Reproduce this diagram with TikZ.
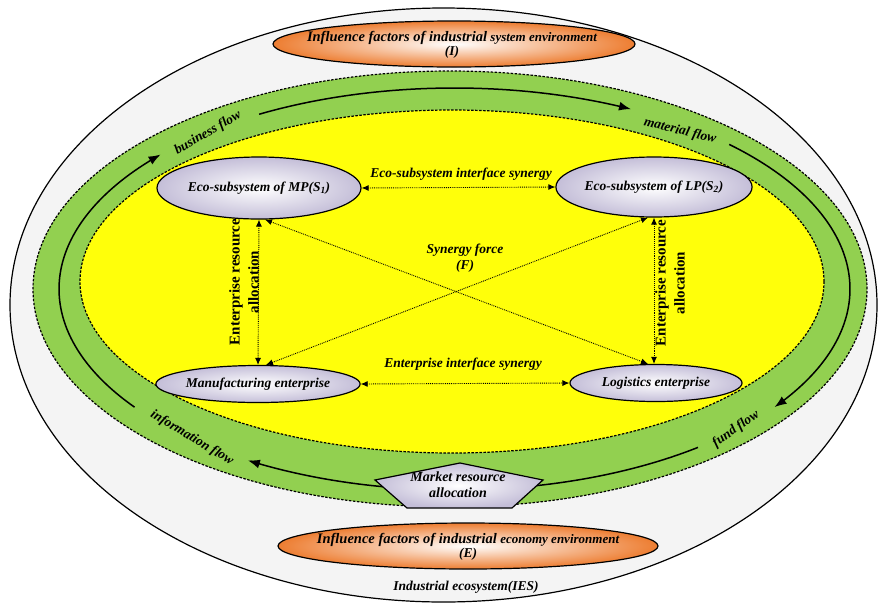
\documentclass[tikz,border=0pt]{standalone}
\usepackage{fontspec}
\setmainfont{Liberation Serif}
\usetikzlibrary{shapes.geometric,arrows.meta}
\definecolor{ringgreen}{RGB}{146,208,80}
\definecolor{lav}{RGB}{196,190,216}
\definecolor{orng}{RGB}{237,125,49}
\definecolor{outerfill}{RGB}{244,244,244}
\definecolor{core}{RGB}{255,255,10}
\tikzset{
  bi/.style={font=\bfseries\itshape\fontsize{13.5}{15}\selectfont},
  eco/.style={ellipse, draw=black, line width=1.2pt, inner color=white, outer color=lav, inner sep=0pt, bi},
  infl/.style={ellipse, draw=black, line width=1.2pt, inner color=white, outer color=orng, inner sep=0pt},
  flowline/.style={line width=1.5pt, -{Latex[length=12pt,width=9pt]}},
  syn/.style={densely dotted, line width=0.9pt, {Latex[length=7pt,width=6pt]}-{Latex[length=7pt,width=6pt]}},
  vlbl/.style={font=\bfseries\fontsize{15}{19}\selectfont, align=center, rotate=90},
  ringdash/.style={dashed, dash pattern=on 2.5pt off 1.5pt, line width=1.2pt}
}
\begin{document}
\begin{tikzpicture}[x=1pt,y=-1pt]
\useasboundingbox (0,0) rectangle (880,603);
% outer ecosystem
\draw[line width=1.2pt, fill=outerfill] (443.5,305) ellipse [x radius=433.5pt, y radius=297pt];
% green ring
\draw[ringdash, fill=ringgreen] (450,289) ellipse [x radius=417pt, y radius=218pt];
% yellow core
\draw[ringdash, fill=core] (452,281.5) ellipse [x radius=372pt, y radius=171.5pt];
% flow arcs
\draw[flowline] plot[domain=144:222, samples=80] ({454.5+395.5*cos(\x)},{289+201*sin(\x)});
\draw[flowline] plot[domain=240.4:296.5, samples=80] ({454.5+395.5*cos(\x)},{289+201*sin(\x)});
\draw[flowline] plot[domain=314:396, samples=80] ({454.5+395.5*cos(\x)},{289+201*sin(\x)});
\draw[line width=1.5pt] plot[domain=52:85, samples=60] ({454.5+395.5*cos(\x)},{289+201*sin(\x)});
\draw[flowline] plot[domain=95:121.5, samples=60] ({454.5+395.5*cos(\x)},{289+201*sin(\x)});
% flow labels
\node[bi, rotate=30] (bflow) at (208,133) {business flow};
\node[bi, rotate=-14] (mflow) at (680,131) {material flow};
\node[bi, rotate=35] (fflow) at (736,429) {fund flow};
\node[bi, rotate=-31] (iflow) at (192,438) {information flow};
% market resource allocation pentagon
\coordinate (p1) at (460,463);
\coordinate (p2) at (543,480);
\coordinate (p3) at (512,508);
\coordinate (p4) at (407,508);
\coordinate (p5) at (375,480);
\draw[line width=1.2pt, inner color=white, outer color=lav] (p1) -- (p2) -- (p3) -- (p4) -- (p5) -- cycle;
\node[bi, align=center, font=\bfseries\itshape\fontsize{14}{16}\selectfont] (market) at (458,485) {Market resource\\allocation};
% influence ellipses
\node[infl, minimum width=362pt, minimum height=46pt] (infI) at (454,44) {};
\node[bi, align=center] (tI) at (452,45) {{\fontsize{14.5}{16}\selectfont Influence factors of industrial} {\fontsize{13}{16}\selectfont system environment}\\[-1pt](I)};
\node[infl, minimum width=380pt, minimum height=46pt] (infE) at (468,546) {};
\node[bi, align=center] (tE) at (468,547) {{\fontsize{14.5}{16}\selectfont Influence factors of industrial} {\fontsize{13}{16}\selectfont economy environment}\\[-1pt](E)};
\node[bi] (ies) at (466,587) {Industrial ecosystem(IES)};
% subsystem ellipses
\node[eco, minimum width=204pt, minimum height=62pt] (mp) at (259,188) {Eco-subsystem of MP(S\textsubscript{1})};
\node[eco, minimum width=178pt, minimum height=60pt] (lp) at (654,187) {Eco-subsystem of LP(S\textsubscript{2})};
\node[eco, minimum width=186pt, minimum height=37pt] (mfg) at (258,384) {Manufacturing enterprise};
\node[eco, minimum width=172pt, minimum height=37pt] (log) at (656,383) {Logistics enterprise};
% synergy connectors
\draw[syn] (mp.east) -- (lp.west);
\draw[syn] (mfg.east) -- (log.west);
\draw[syn] (mp.south) -- (mfg.north);
\draw[syn] (lp.south) -- (lp.south |- log.north);
\draw[syn] ([xshift=6pt]mp.south) -- ([xshift=-8pt]log.north);
\draw[syn] ([xshift=8pt]mfg.north) -- ([xshift=-6pt]lp.south);
% labels
\node[bi] (l1) at (461,174) {Eco-subsystem interface synergy};
\node[bi] (l2) at (463,364) {Enterprise interface synergy};
\node[bi, align=center] (sf) at (465,258) {Synergy force\\[1pt](F)};
\node[vlbl] (v1) at (244,282) {Enterprise resource\\allocation};
\node[vlbl] (v2) at (670,283) {Enterprise resource\\allocation};
\end{tikzpicture}
\end{document}
